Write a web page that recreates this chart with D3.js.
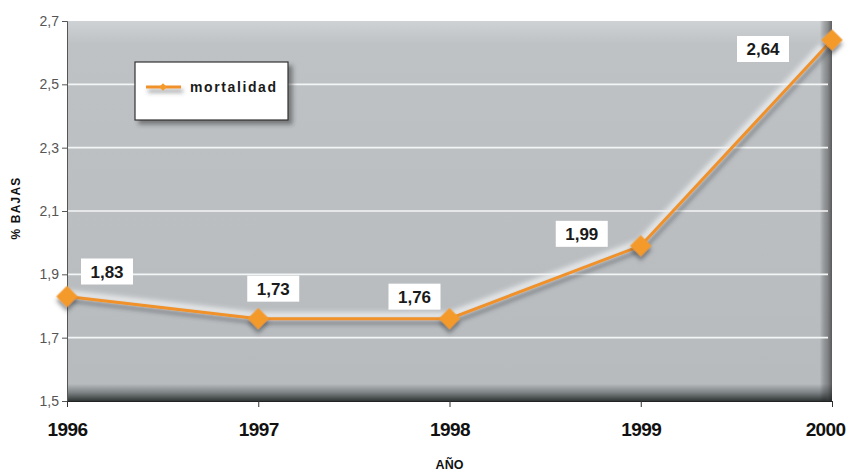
<!DOCTYPE html>
<html>
<head>
<meta charset="utf-8">
<script src="https://cdn.jsdelivr.net/npm/d3@7"></script>
<style>
  body { margin: 0; background: #fff; }
  svg { display: block; font-family: "Liberation Sans", Arial, sans-serif; }
</style>
</head>
<body>
<svg id="chart" width="848" height="472"></svg>
<script>
// data
var years = ["1996", "1997", "1998", "1999", "2000"];
var mortalidad = [1.83, 1.76, 1.76, 1.99, 2.64];
var labels = ["1,83", "1,73", "1,76", "1,99", "2,64"];
var y_ticks = [1.5, 1.7, 1.9, 2.1, 2.3, 2.5, 2.7];

// where each value box sits relative to its point (dx, dy of box top-left)
var label_off = [[14, -38], [-11, -43], [-61, -35], [-85, -25], [-95, -4]];

var margin = {left: 67, right: 16, top: 21, bottom: 71};
var width = 848, height = 472;
var plot_w = width - margin.left - margin.right;
var plot_h = height - margin.top - margin.bottom;

var svg = d3.select("#chart");
var defs = svg.append("defs");

var gv = defs.append("linearGradient").attr("id", "bgv").attr("x1", 0).attr("x2", 0).attr("y1", 0).attr("y2", 1);
gv.append("stop").attr("offset", "0%").attr("stop-color", "#cfd2d4");
gv.append("stop").attr("offset", "6%").attr("stop-color", "#bec2c5");
gv.append("stop").attr("offset", "95.5%").attr("stop-color", "#b7bbbe");
gv.append("stop").attr("offset", "97.8%").attr("stop-color", "#7c8183");
gv.append("stop").attr("offset", "100%").attr("stop-color", "#303535");

var gh = defs.append("linearGradient").attr("id", "bgh").attr("x1", 0).attr("x2", 1).attr("y1", 0).attr("y2", 0);
gh.append("stop").attr("offset", "0%").attr("stop-color", "#000").attr("stop-opacity", 0);
gh.append("stop").attr("offset", "98.4%").attr("stop-color", "#000").attr("stop-opacity", 0);
gh.append("stop").attr("offset", "99.4%").attr("stop-color", "#333").attr("stop-opacity", 0.4);
gh.append("stop").attr("offset", "100%").attr("stop-color", "#222").attr("stop-opacity", 0.65);

// shadow for lines (bbox of a flat line is empty, so user space region)
var shu = defs.append("filter").attr("id", "shadowU").attr("filterUnits", "userSpaceOnUse")
  .attr("x", -20).attr("y", -20).attr("width", width + 40).attr("height", height + 40);
shu.append("feDropShadow").attr("dx", 2).attr("dy", 4).attr("stdDeviation", 2.2)
  .attr("flood-color", "#3a3f42").attr("flood-opacity", 0.55);

// shadow for the diamonds
var shm = defs.append("filter").attr("id", "shadowM").attr("x", "-60%").attr("y", "-60%").attr("width", "220%").attr("height", "220%");
shm.append("feDropShadow").attr("dx", 3).attr("dy", 3).attr("stdDeviation", 2)
  .attr("flood-color", "#3a3f42").attr("flood-opacity", 0.55);

var glow = defs.append("filter").attr("id", "glow").attr("filterUnits", "userSpaceOnUse")
  .attr("x", -20).attr("y", -20).attr("width", width + 40).attr("height", height + 40);
glow.append("feGaussianBlur").attr("stdDeviation", 2.5);

var boxsh = defs.append("filter").attr("id", "boxsh").attr("x", "-10%").attr("y", "-10%").attr("width", "130%").attr("height", "140%");
boxsh.append("feDropShadow").attr("dx", 4).attr("dy", 4).attr("stdDeviation", 2)
  .attr("flood-color", "#333").attr("flood-opacity", 0.5);

var x = d3.scalePoint().domain(years).range([margin.left, margin.left + plot_w]);
var y = d3.scaleLinear().domain([1.5, 2.7]).range([margin.top + plot_h, margin.top]);

// plot background
svg.append("rect").attr("x", margin.left).attr("y", margin.top)
  .attr("width", plot_w).attr("height", plot_h).attr("fill", "url(#bgv)");
svg.append("rect").attr("x", margin.left).attr("y", margin.top)
  .attr("width", plot_w).attr("height", plot_h).attr("fill", "url(#bgh)");

// gridlines
svg.append("g").selectAll("line").data(y_ticks.slice(1, -1)).enter().append("line")
  .attr("x1", margin.left).attr("x2", margin.left + plot_w - 4)
  .attr("y1", function(d) { return y(d); }).attr("y2", function(d) { return y(d); })
  .attr("stroke", "#f4f5f5").attr("stroke-width", 1.6);

// axes
var yAxis = svg.append("g").attr("transform", "translate(" + margin.left + ",0)")
  .call(d3.axisLeft(y).tickValues(y_ticks).tickSize(5).tickPadding(3)
    .tickFormat(function(d) { return d3.format(".1f")(d).replace(".", ","); }));
yAxis.select(".domain").attr("stroke", "#555");
yAxis.selectAll(".tick line").attr("stroke", "#555");
yAxis.selectAll("text").attr("fill", "#555").style("font-size", "14px")
  .style("font-family", "'Liberation Sans', Arial, sans-serif");

var xAxis = svg.append("g").attr("transform", "translate(0," + (margin.top + plot_h) + ")")
  .call(d3.axisBottom(x).tickSize(6).tickSizeOuter(0).tickPadding(16));
xAxis.select(".domain").attr("stroke", "#222").attr("stroke-width", 1.2);
xAxis.selectAll(".tick line").attr("stroke", "#333");
xAxis.selectAll("text").attr("fill", "#111").style("font-size", "19px").style("font-weight", "bold")
  .style("letter-spacing", "-0.6px").style("font-family", "'Liberation Sans', Arial, sans-serif")
  .each(function(d) {
    var w = this.getComputedTextLength();
    var over = x(d) + w / 2 - (width - 3);
    if (over > 0) d3.select(this).attr("x", -over);
  });

// axis titles
svg.append("text").attr("x", margin.left + plot_w / 2).attr("y", 469)
  .attr("text-anchor", "middle").style("font-size", "12.5px").style("font-weight", "bold")
  .attr("fill", "#111").text("AÑO");
svg.append("text").attr("transform", "translate(20,208) rotate(-90)")
  .attr("text-anchor", "middle").style("font-size", "12px").style("font-weight", "bold")
  .style("letter-spacing", "1.2px").attr("fill", "#111").text("% BAJAS");

// line
var pts = years.map(function(d, i) { return [x(d), y(mortalidad[i])]; });
var line = d3.line();
svg.append("path").attr("d", line(pts)).attr("fill", "none")
  .attr("stroke", "#f2f3f3").attr("stroke-width", 7).attr("filter", "url(#glow)").attr("opacity", 0.8)
  .attr("transform", "translate(-1,-3)");
svg.append("path").attr("d", line(pts)).attr("fill", "none")
  .attr("stroke", "#f0912a").attr("stroke-width", 3).attr("filter", "url(#shadowU)");

// markers
var diamond = d3.symbol().type(d3.symbolSquare).size(230);
svg.append("g").selectAll("path").data(pts).enter().append("path")
  .attr("d", diamond)
  .attr("transform", function(d) { return "translate(" + d[0] + "," + d[1] + ") rotate(45)"; })
  .attr("fill", "#f49a2c").attr("filter", "url(#shadowM)");

// value boxes
var vb = svg.append("g").selectAll("g").data(pts).enter().append("g")
  .attr("transform", function(d, i) { return "translate(" + (d[0] + label_off[i][0]) + "," + (d[1] + label_off[i][1]) + ")"; });
vb.append("rect").attr("width", 52).attr("height", 26).attr("fill", "#fff");
vb.append("text").attr("x", 26).attr("y", 19).attr("text-anchor", "middle")
  .style("font-size", "17px").style("font-weight", "bold").attr("fill", "#1a1a1a")
  .text(function(d, i) { return labels[i]; });

// legend
var lg = svg.append("g").attr("transform", "translate(135,62)");
lg.append("rect").attr("width", 153).attr("height", 58).attr("fill", "#fff")
  .attr("stroke", "#333").attr("stroke-width", 1.2).attr("filter", "url(#boxsh)");
lg.append("line").attr("x1", 11).attr("x2", 46).attr("y1", 25).attr("y2", 25)
  .attr("stroke", "#f0912a").attr("stroke-width", 3).attr("filter", "url(#shadowU)");
lg.append("path").attr("d", d3.symbol().type(d3.symbolSquare).size(30))
  .attr("transform", "translate(28,25) rotate(45)").attr("fill", "#f49a2c");
lg.append("text").attr("x", 55).attr("y", 30).style("font-size", "14px").style("font-weight", "bold")
  .style("letter-spacing", "1.6px").attr("fill", "#1a1a1a").text("mortalidad");
</script>
</body>
</html>
